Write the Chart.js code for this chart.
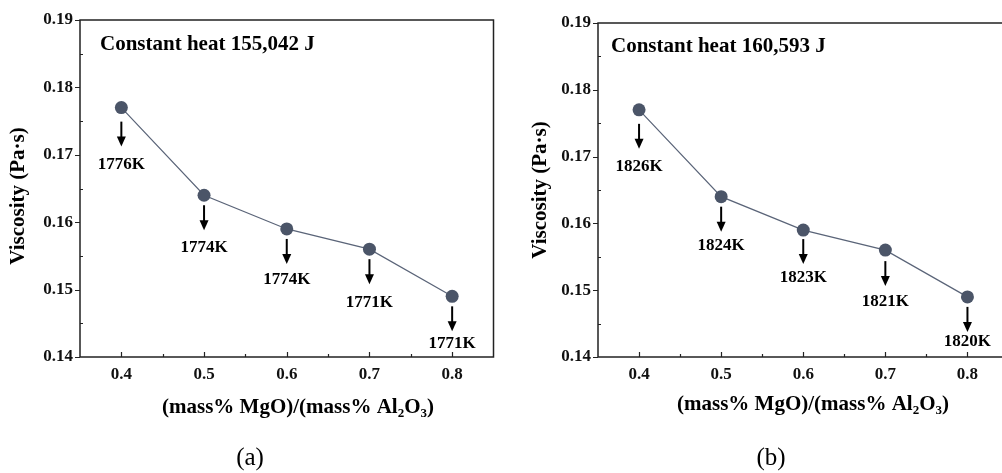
<!DOCTYPE html>
<html>
<head>
<meta charset="utf-8">
<script src="https://cdn.jsdelivr.net/npm/chart.js@4"></script>
<style>
  html, body { margin: 0; padding: 0; background: #fff; overflow: hidden; }
  body { width: 1002px; height: 473px; position: relative; }
  .wrap { position: absolute; top: 0; height: 473px; }
  #w1 { left: 0; width: 500px; }
  #w2 { left: 500px; width: 515px; }
</style>
</head>
<body>
<div class="wrap" id="w1"><canvas id="c1" width="500" height="473"></canvas></div>
<div class="wrap" id="w2"><canvas id="c2" width="515" height="473"></canvas></div>
<script>
// ---- data ----
const ratio = [0.4, 0.5, 0.6, 0.7, 0.8];
const viscosityA = [0.177, 0.164, 0.159, 0.156, 0.149];
const viscosityB = [0.177, 0.164, 0.159, 0.156, 0.149];
const tempLabelsA = ['1776K', '1774K', '1774K', '1771K', '1771K'];
const tempLabelsB = ['1826K', '1824K', '1823K', '1821K', '1820K'];
const xTicks = [0.4, 0.5, 0.6, 0.7, 0.8];
const xMinorTicks = [0.45, 0.55, 0.65, 0.75];
const yTicks = [0.14, 0.15, 0.16, 0.17, 0.18, 0.19];
const yMinorTicks = [0.145, 0.155, 0.165, 0.175, 0.185];
const titleA = 'Constant heat 155,042 J';
const titleB = 'Constant heat 160,593 J';
const yTitle = 'Viscosity (Pa\u00b7s)';
const captionA = '(a)';
const captionB = '(b)';

const SERIF = '"Liberation Serif", "Times New Roman", serif';
const MARK = '#4b5568';

function makeChart(id, cfg) {
  const decor = {
    id: 'decor',
    afterDraw(chart) {
      const ctx = chart.ctx;
      const a = chart.chartArea;
      const xs = chart.scales.x, ys = chart.scales.y;
      ctx.save();
      // frame
      ctx.strokeStyle = '#222';
      ctx.lineWidth = 1.5;
      ctx.strokeRect(a.left, a.top, a.right - a.left, a.bottom - a.top);
      // ticks
      ctx.lineWidth = 1.2;
      ctx.beginPath();
      yTicks.forEach(v => { const p = Math.round(ys.getPixelForValue(v)) + 0.5; ctx.moveTo(a.left - 5, p); ctx.lineTo(a.left, p); });
      yMinorTicks.forEach(v => { const p = Math.round(ys.getPixelForValue(v)) + 0.5; ctx.moveTo(a.left, p); ctx.lineTo(a.left + 3, p); });
      xTicks.forEach(v => { const p = Math.round(xs.getPixelForValue(v)) + 0.5; ctx.moveTo(p, a.bottom); ctx.lineTo(p, a.bottom - 5); });
      xMinorTicks.forEach(v => { const p = Math.round(xs.getPixelForValue(v)) + 0.5; ctx.moveTo(p, a.bottom); ctx.lineTo(p, a.bottom - 3); });
      ctx.stroke();
      // arrows + labels
      ctx.fillStyle = '#000';
      ctx.strokeStyle = '#000';
      ctx.font = 'bold 17px ' + SERIF;
      ctx.textAlign = 'center';
      ctx.textBaseline = 'middle';
      cfg.values.forEach((v, i) => {
        const px = xs.getPixelForValue(ratio[i]);
        const py = ys.getPixelForValue(v) + cfg.arrowShift[i];
        ctx.lineWidth = 2;
        ctx.beginPath();
        ctx.moveTo(px, py + 10);
        ctx.lineTo(px, py + 26);
        ctx.stroke();
        ctx.beginPath();
        ctx.moveTo(px - 4.5, py + 25);
        ctx.lineTo(px + 4.5, py + 25);
        ctx.lineTo(px, py + 35);
        ctx.closePath();
        ctx.fill();
        ctx.fillText(cfg.labels[i], px, ys.getPixelForValue(v) + cfg.labelDy[i]);
      });
      // panel title
      ctx.font = 'bold 21px ' + SERIF;
      ctx.textAlign = 'left';
      ctx.fillText(cfg.title, a.left + cfg.titleDx, a.top + cfg.titleDy);
      // y axis title
      ctx.save();
      ctx.translate(cfg.yTitleX, cfg.yTitleY);
      ctx.rotate(-Math.PI / 2);
      ctx.textAlign = 'center';
      ctx.font = 'bold 21px ' + SERIF;
      ctx.fillText(yTitle, 0, 0);
      ctx.restore();
      // x axis title with subscripts
      const big = 'bold 21px ' + SERIF, small = 'bold 13px ' + SERIF;
      const parts = [['(mass% MgO)/(mass% Al', big, 0], ['2', small, 6], ['O', big, 0], ['3', small, 6], [')', big, 0]];
      let w = 0;
      parts.forEach(p => { ctx.font = p[1]; w += ctx.measureText(p[0]).width; });
      let x = cfg.xTitleX - w / 2;
      ctx.textAlign = 'left';
      parts.forEach(p => { ctx.font = p[1]; ctx.fillText(p[0], x, cfg.xTitleY + p[2]); x += ctx.measureText(p[0]).width; });
      // caption
      ctx.font = '25px ' + SERIF;
      ctx.textAlign = 'center';
      ctx.fillText(cfg.caption, cfg.captionX, 458);
      ctx.restore();
    }
  };

  return new Chart(document.getElementById(id), {
    type: 'scatter',
    data: {
      datasets: [{
        data: ratio.map((r, i) => ({ x: r, y: cfg.values[i] })),
        showLine: true,
        borderColor: '#5a6478',
        borderWidth: 1.2,
        backgroundColor: MARK,
        pointBackgroundColor: MARK,
        pointBorderColor: MARK,
        pointRadius: 6.5,
        pointBorderWidth: 0,
        clip: false
      }]
    },
    options: {
      responsive: false,
      animation: false,
      devicePixelRatio: 1,
      layout: { padding: { left: 0, top: cfg.top, right: cfg.right, bottom: 0 } },
      plugins: { legend: { display: false }, tooltip: { enabled: false } },
      scales: {
        x: {
          type: 'linear', min: 0.35, max: 0.85,
          grid: { display: false, drawTicks: false }, border: { display: false },
          afterBuildTicks: s => { s.ticks = xTicks.map(v => ({ value: v })); },
          afterFit: s => { s.height = 473 - cfg.bottom; },
          ticks: { padding: 7, color: '#111', font: { family: SERIF, size: 17, weight: 'bold' }, callback: v => v.toFixed(1) }
        },
        y: {
          type: 'linear', min: 0.14, max: 0.19,
          grid: { display: false, drawTicks: false }, border: { display: false },
          afterBuildTicks: s => { s.ticks = yTicks.map(v => ({ value: v })); },
          afterFit: s => { s.width = cfg.left; },
          ticks: { padding: 7, color: '#111', font: { family: SERIF, size: 17, weight: 'bold' }, callback: v => v.toFixed(2) }
        }
      }
    },
    plugins: [decor]
  });
}

makeChart('c1', {
  values: viscosityA, labels: tempLabelsA, title: titleA, caption: captionA,
  left: 80, top: 20, right: 3, bottom: 357,
  arrowShift: [4, 0, 0, 0, 0], labelDy: [57, 52, 51, 53, 47],
  titleDx: 20, titleDy: 25, yTitleX: 19, yTitleY: 196,
  xTitleX: 298, xTitleY: 408, captionX: 250
});
makeChart('c2', {
  values: viscosityB, labels: tempLabelsB, title: titleB, caption: captionB,
  left: 98, top: 23, right: 5, bottom: 357,
  arrowShift: [4, 0, -1, 1, 0], labelDy: [57, 49, 48, 51, 45],
  titleDx: 13, titleDy: 24, yTitleX: 41, yTitleY: 190,
  xTitleX: 313, xTitleY: 405, captionX: 271
});
</script>
</body>
</html>
